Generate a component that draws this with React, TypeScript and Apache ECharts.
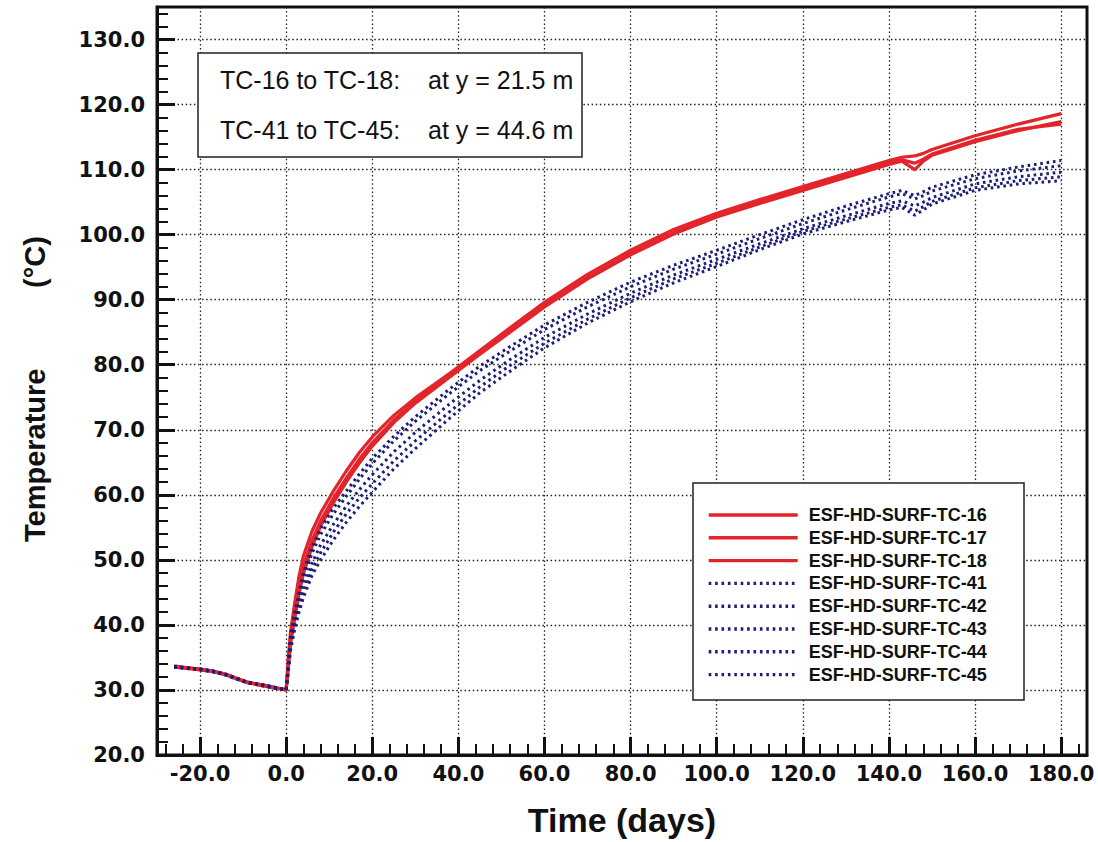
import React, { useEffect, useRef } from "react";
import * as echarts from "echarts";

// ---- data (days, temperature °C) ----
const DAYS = [
  -26, -23, -20, -17, -14, -12, -9, -5, -2, 0,
  0.5, 1, 2, 3, 4, 6, 8, 11, 14, 17, 20,
  25, 30, 38, 45, 52, 60, 70, 80, 90, 100,
  110, 120, 130, 140, 143, 146, 148, 150, 160, 170, 180,
];

const TC16 = [
  33.6, 33.4, 33.2, 32.9, 32.4, 31.9, 31.2, 30.7, 30.3, 30.0,
  35.0, 38.8, 43.5, 47.5, 50.6, 54.4, 57.2, 60.6, 63.7, 66.5, 68.9,
  72.2, 74.9, 78.7, 82.2, 85.7, 89.6, 93.9, 97.6, 100.8, 103.3,
  105.4, 107.4, 109.4, 111.4, 111.9, 112.1, 112.5, 113.1, 115.2, 117.0, 118.6,
];
const TC17 = [
  33.5, 33.3, 33.1, 32.8, 32.3, 31.8, 31.1, 30.6, 30.2, 30.0,
  33.5, 37.0, 41.0, 44.8, 47.9, 52.0, 55.2, 58.8, 62.0, 64.9, 67.5,
  71.1, 74.1, 78.1, 81.6, 85.0, 88.9, 93.2, 96.9, 100.1, 102.7,
  104.8, 106.8, 108.8, 110.8, 111.3, 110.0, 111.3, 112.2, 114.3, 116.0, 117.4,
];
const TC18 = [
  33.7, 33.4, 33.2, 32.9, 32.4, 31.9, 31.2, 30.7, 30.3, 30.0,
  34.0, 37.8, 42.0, 45.8, 49.0, 53.0, 56.0, 59.5, 62.6, 65.5, 68.0,
  71.5, 74.4, 78.3, 81.8, 85.2, 89.1, 93.4, 97.1, 100.3, 102.9,
  105.0, 107.0, 109.0, 111.0, 111.5, 111.0, 111.6, 112.4, 114.5, 116.2, 117.0,
];
const TC41 = [
  33.6, 33.4, 33.2, 32.9, 32.4, 31.9, 31.2, 30.7, 30.3, 30.0,
  34.0, 38.3, 42.0, 45.0, 48.0, 52.0, 54.8, 58.0, 60.6, 63.2, 65.6,
  69.0, 72.0, 76.3, 79.8, 82.8, 86.1, 89.6, 92.7, 95.3, 97.6,
  100.0, 102.3, 104.4, 106.3, 106.8, 106.0, 106.6, 107.3, 109.2, 110.4, 111.4,
];
const TC42 = [
  33.5, 33.3, 33.1, 32.8, 32.3, 31.8, 31.1, 30.6, 30.2, 30.0,
  33.7, 37.8, 41.4, 44.4, 47.2, 51.0, 53.9, 57.1, 59.8, 62.4, 64.8,
  68.3, 71.3, 75.6, 79.1, 82.1, 85.4, 88.9, 92.0, 94.7, 97.0,
  99.4, 101.7, 103.8, 105.8, 106.3, 105.5, 106.0, 106.7, 108.6, 109.8, 110.6,
];
const TC43 = [
  33.6, 33.4, 33.2, 32.9, 32.4, 31.9, 31.2, 30.7, 30.3, 30.0,
  33.3, 37.0, 40.6, 43.3, 45.8, 49.5, 52.3, 55.5, 58.3, 60.8, 63.1,
  66.6, 69.6, 74.0, 77.6, 80.8, 84.2, 87.8, 91.0, 93.8, 96.2,
  98.6, 100.9, 102.9, 104.8, 105.2, 104.4, 105.0, 105.7, 107.8, 108.9, 109.6,
];
const TC44 = [
  33.5, 33.3, 33.1, 32.8, 32.3, 31.8, 31.1, 30.6, 30.2, 30.0,
  33.0, 36.4, 40.0, 42.6, 44.8, 48.5, 51.1, 54.3, 57.1, 59.5, 61.7,
  65.2, 68.3, 72.8, 76.6, 79.9, 83.3, 87.0, 90.3, 93.2, 95.6,
  98.1, 100.5, 102.4, 104.2, 104.6, 103.6, 104.3, 105.1, 107.2, 108.3, 108.9,
];
const TC45 = [
  33.6, 33.4, 33.2, 32.9, 32.4, 31.9, 31.2, 30.7, 30.3, 30.0,
  32.8, 36.0, 39.4, 42.0, 44.2, 47.6, 50.0, 53.1, 55.8, 58.2, 60.4,
  64.0, 67.1, 71.8, 75.7, 79.0, 82.6, 86.4, 89.7, 92.6, 95.1,
  97.7, 100.1, 102.0, 103.8, 104.2, 103.0, 103.8, 104.7, 106.8, 107.8, 108.3,
];

const RED_NAMES = ["ESF-HD-SURF-TC-16", "ESF-HD-SURF-TC-17", "ESF-HD-SURF-TC-18"];
const BLUE_NAMES = [
  "ESF-HD-SURF-TC-41",
  "ESF-HD-SURF-TC-42",
  "ESF-HD-SURF-TC-43",
  "ESF-HD-SURF-TC-44",
  "ESF-HD-SURF-TC-45",
];
const RED_VALUES = [TC16, TC17, TC18];
const BLUE_VALUES = [TC41, TC42, TC43, TC44, TC45];

const X_MIN = -30;
const X_MAX = 186;
const Y_MIN = 20;
const Y_MAX = 135;
const X_MAJOR = [-20, 0, 20, 40, 60, 80, 100, 120, 140, 160, 180];
const X_MINOR = [
  -28, -24, -16, -12, -8, -4, 4, 8, 12, 16, 24, 28, 32, 36, 44, 48, 52, 56,
  64, 68, 72, 76, 84, 88, 92, 96, 104, 108, 112, 116, 124, 128, 132, 136,
  144, 148, 152, 156, 164, 168, 172, 176, 184,
];
const Y_MAJOR = [20, 30, 40, 50, 60, 70, 80, 90, 100, 110, 120, 130];
const Y_MINOR = [
  22, 24, 26, 28, 32, 34, 36, 38, 42, 44, 46, 48, 52, 54, 56, 58, 62, 64, 66, 68,
  72, 74, 76, 78, 82, 84, 86, 88, 92, 94, 96, 98, 102, 104, 106, 108, 112, 114,
  116, 118, 122, 124, 126, 128, 132, 134,
];

const NOTE_LINES = [
  ["TC-16 to TC-18:", "at y = 21.5 m"],
  ["TC-41 to TC-45:", "at y = 44.6 m"],
];

const RED = "#e3242b";
const BLUE = "#1c1f78";
const INK = "#111111";

export default function App() {
  const ref = useRef<HTMLDivElement>(null);

  useEffect(() => {
    if (!ref.current) return;
    const chart = echarts.init(ref.current, undefined, { renderer: "svg" });

    const labelFont = {
      fontFamily: "DejaVu Sans",
      fontWeight: "bold" as const,
      fontSize: 21,
      color: INK,
    };

    const series: any[] = [];
    RED_NAMES.forEach((name, k) => {
      series.push({
        name,
        type: "line",
        symbol: "none",
        showSymbol: false,
        xAxisIndex: 0,
        yAxisIndex: 0,
        data: DAYS.map((d, i) => [d, RED_VALUES[k][i]]),
        lineStyle: { color: RED, width: 3.2, join: "round" },
        itemStyle: { color: RED },
        z: 3,
      });
    });
    BLUE_NAMES.forEach((name, k) => {
      series.push({
        name,
        type: "line",
        symbol: "none",
        showSymbol: false,
        xAxisIndex: 0,
        yAxisIndex: 0,
        data: DAYS.map((d, i) => [d, BLUE_VALUES[k][i]]),
        lineStyle: { color: BLUE, width: 3, type: [2.6, 3.8] },
        itemStyle: { color: BLUE },
        z: 4,
      });
    });

    const option: any = {
      animation: false,
      backgroundColor: "#ffffff",
      grid: {
        left: 157,
        top: 7,
        right: 11,
        bottom: 85,
        show: true,
        borderColor: INK,
        borderWidth: 3,
        backgroundColor: "transparent",
        containLabel: false,
      },
      xAxis: [
        {
          type: "value",
          min: X_MIN,
          max: X_MAX,
          splitNumber: 10,
          position: "bottom",
          axisLine: { show: true, onZero: false, lineStyle: { color: INK, width: 3 } },
          axisTick: {
            show: true,
            inside: true,
            length: 18,
            customValues: X_MAJOR,
            lineStyle: { color: INK, width: 3 },
          },
          axisLabel: {
            ...labelFont,
            margin: 8,
            customValues: X_MAJOR,
            formatter: (v: number) => v.toFixed(1),
          },
          splitLine: {
            show: true,
            lineStyle: { color: "#222", width: 1.3, type: [1.5, 2.6] },
          },
          name: "Time (days)",
          nameLocation: "middle",
          nameGap: 48,
          nameTextStyle: {
            fontFamily: "Liberation Sans",
            fontWeight: "bold",
            fontSize: 34,
            color: INK,
          },
        },
        {
          type: "value",
          min: X_MIN,
          max: X_MAX,
          position: "bottom",
          offset: 0,
          axisLine: { show: false, onZero: false },
          axisTick: {
            show: true,
            inside: true,
            length: 11,
            customValues: X_MINOR,
            lineStyle: { color: INK, width: 2 },
          },
          axisLabel: { show: false },
          splitLine: { show: false },
        },
      ],
      yAxis: [
        {
          type: "value",
          min: Y_MIN,
          max: Y_MAX,
          interval: 10,
          position: "left",
          axisLine: { show: true, onZero: false, lineStyle: { color: INK, width: 3 } },
          axisTick: {
            show: true,
            inside: true,
            length: 18,
            customValues: Y_MAJOR,
            lineStyle: { color: INK, width: 3 },
          },
          axisLabel: {
            ...labelFont,
            margin: 12,
            customValues: Y_MAJOR,
            formatter: (v: number) => v.toFixed(1),
          },
          splitLine: {
            show: true,
            lineStyle: { color: "#222", width: 1.3, type: [1.5, 2.6] },
          },
          name: "Temperature          (°C)  ",
          nameLocation: "middle",
          nameRotate: 90,
          nameGap: 108,
          nameTextStyle: {
            fontFamily: "Liberation Sans",
            fontWeight: "bold",
            fontSize: 29,
            color: INK,
          },
        },
        {
          type: "value",
          min: Y_MIN,
          max: Y_MAX,
          position: "left",
          offset: 0,
          axisLine: { show: false, onZero: false },
          axisTick: {
            show: true,
            inside: true,
            length: 11,
            customValues: Y_MINOR,
            lineStyle: { color: INK, width: 2 },
          },
          axisLabel: { show: false },
          splitLine: { show: false },
        },
      ],
      legend: {
        show: true,
        orient: "vertical",
        left: 707,
        top: 506,
        padding: 0,
        itemWidth: 89,
        itemHeight: 14,
        itemGap: 4.8,
        data: [...RED_NAMES, ...BLUE_NAMES],
        itemStyle: { opacity: 0 },
        lineStyle: { width: 3.4 },
        textStyle: {
          fontFamily: "Liberation Sans",
          fontWeight: "bold",
          fontSize: 18,
          color: INK,
          padding: [0, 0, 0, 6],
        },
        z: 6,
      },
      graphic: [
        {
          type: "rect",
          z: 5,
          shape: { x: 693, y: 483, width: 331, height: 217 },
          style: { fill: "#ffffff", stroke: "#222", lineWidth: 1.5 },
        },
        {
          type: "rect",
          z: 5,
          shape: { x: 198, y: 53, width: 384, height: 104 },
          style: { fill: "#ffffff", stroke: "#222", lineWidth: 1.5 },
        },
        ...NOTE_LINES.flatMap((line, i) => [
          {
            type: "text",
            z: 6,
            x: 220,
            y: 80 + i * 50,
            style: {
              text: line[0],
              fill: INK,
              font: "25px 'Liberation Sans'",
              verticalAlign: "middle",
              align: "left",
            },
          },
          {
            type: "text",
            z: 6,
            x: 428,
            y: 80 + i * 50,
            style: {
              text: line[1],
              fill: INK,
              font: "25px 'Liberation Sans'",
              verticalAlign: "middle",
              align: "left",
            },
          },
        ]),
      ],
      series,
    };

    chart.setOption(option);
    return () => chart.dispose();
  }, []);

  return (
    <div
      ref={ref}
      style={{ position: "absolute", left: 0, top: 0, width: 1098, height: 842, background: "#fff" }}
    />
  );
}
